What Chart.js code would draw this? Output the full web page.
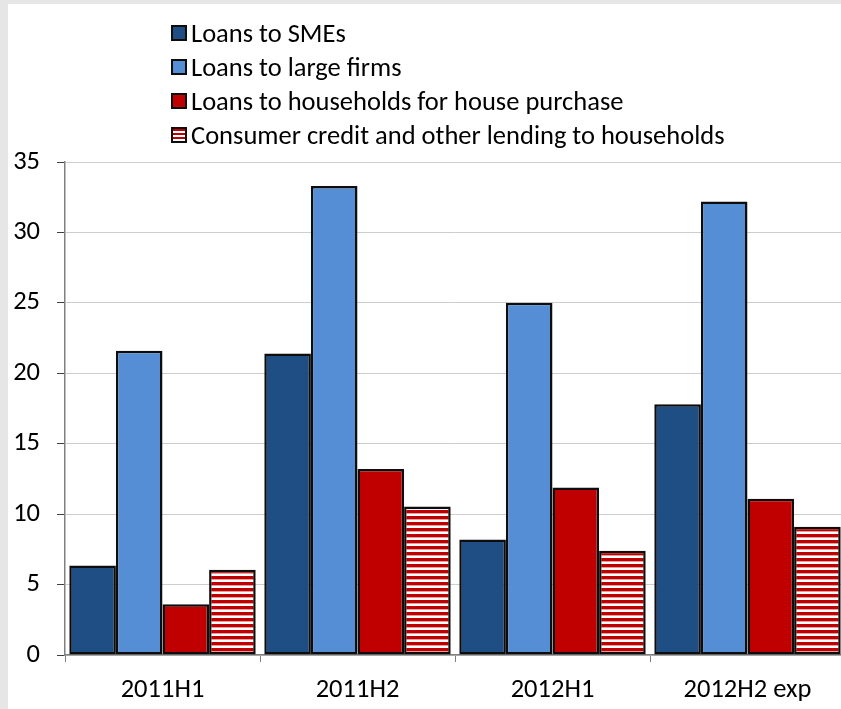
<!DOCTYPE html>
<html>
<head>
<meta charset="utf-8">
<script src="https://cdn.jsdelivr.net/npm/chart.js@4/dist/chart.umd.min.js"></script>
<style>
  html, body { margin: 0; padding: 0; overflow: hidden; background: #e6e6e6; }
  body { width: 841px; height: 709px; position: relative; font-family: Carlito, Lato, sans-serif; }
  #panel { position: absolute; left: 8px; top: 4px; width: 840px; height: 710px; background: #fff; }
  #chart { position: absolute; left: 0; top: 0; }
  #legend { position: absolute; left: 171px; top: 16px; font-size: 26.5px; color: #000; }
  #legend .row { height: 34px; display: flex; align-items: center; white-space: nowrap; }
  #legend .sw { width: 16px; height: 16px; box-sizing: border-box; border: 2.5px solid #0d0d0d; margin-right: 4px; }
</style>
</head>
<body>
<div id="panel"></div>
<canvas id="chart" width="845" height="709"></canvas>
<div id="legend"></div>
<script>
const categories = ['2011H1', '2011H2', '2012H1', '2012H2 exp'];
const seriesNames = [
  'Loans to SMEs',
  'Loans to large firms',
  'Loans to households for house purchase',
  'Consumer credit and other lending to households'
];
const smes = [6.35, 21.4, 8.2, 17.8];
const largeFirms = [21.6, 33.3, 25.0, 32.2];
const housePurchase = [3.6, 13.2, 11.9, 11.1];
const consumerCredit = [6.05, 10.55, 7.4, 9.1];
const yTicks = [0, 5, 10, 15, 20, 25, 30, 35];

const FONT = 'Carlito, Lato, sans-serif';

// horizontal red/white stripes for consumer credit
function stripes() {
  const c = document.createElement('canvas');
  c.width = 8; c.height = 6;
  const g = c.getContext('2d');
  g.fillStyle = '#c00000';
  g.fillRect(0, 0, 8, 6);
  g.fillStyle = '#ffffff';
  g.fillRect(0, 3.4, 8, 2.6);
  return g.createPattern(c, 'repeat');
}

const fills = ['#1f4e85', '#558ed5', '#c00000', stripes()];
const swatchCss = ['#1f4e85', '#558ed5', '#c00000',
  'repeating-linear-gradient(to bottom, #c00000 0 2px, #fff 2px 4px)'];

const legend = document.getElementById('legend');
seriesNames.forEach((name, i) => {
  const row = document.createElement('div');
  row.className = 'row';
  const sw = document.createElement('div');
  sw.className = 'sw';
  sw.style.background = swatchCss[i];
  row.appendChild(sw);
  row.appendChild(document.createTextNode(name));
  legend.appendChild(row);
});

const values = [smes, largeFirms, housePurchase, consumerCredit];

new Chart(document.getElementById('chart'), {
  type: 'bar',
  data: {
    labels: categories,
    datasets: values.map((v, i) => ({
      label: seriesNames[i],
      data: v,
      backgroundColor: fills[i],
      borderColor: '#0d0d0d',
      borderWidth: 2.5,
      borderSkipped: false,
      categoryPercentage: 0.956,
      barPercentage: 1.0
    }))
  },
  options: {
    responsive: false,
    animation: false,
    layout: { padding: { top: 162, left: 0, right: 0, bottom: 0 } },
    plugins: { legend: { display: false }, tooltip: { enabled: false } },
    scales: {
      x: {
        grid: { offset: true, drawOnChartArea: false, tickLength: 7, tickColor: '#808080' },
        border: { color: '#808080', width: 1.5 },
        ticks: { color: '#000', font: { family: FONT, size: 26.5 }, padding: 12 },
        afterFit: s => { s.height = 54; }
      },
      y: {
        min: 0,
        max: 35,
        afterBuildTicks: s => { s.ticks = yTicks.map(v => ({ value: v })); },
        grid: { color: '#cdcdcd', tickLength: 8, tickColor: '#404040' },
        border: { color: '#808080', width: 1.5 },
        ticks: { color: '#000', font: { family: FONT, size: 26.5 }, padding: 17 },
        afterFit: s => { s.width = 65; }
      }
    }
  }
});
</script>
</body>
</html>
